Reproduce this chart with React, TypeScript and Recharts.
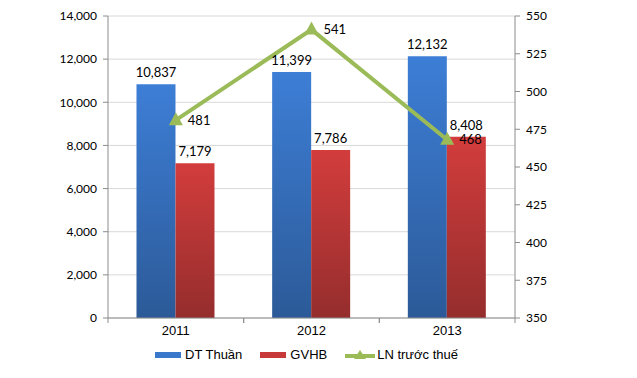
import {
  ComposedChart,
  Bar,
  Line,
  XAxis,
  YAxis,
  CartesianGrid,
  Legend,
  LabelList,
} from "recharts";

const years = ["2011", "2012", "2013"];
const dtThuan = [10837, 11399, 12132];
const gvhb = [7179, 7786, 8408];
const lnTruocThue = [481, 541, 468];

const leftTicks = [0, 2000, 4000, 6000, 8000, 10000, 12000, 14000];
const rightTicks = [350, 375, 400, 425, 450, 475, 500, 525, 550];

const data = years.map((y, i) => ({
  year: y,
  dt: dtThuan[i],
  gv: gvhb[i],
  ln: lnTruocThue[i],
}));

const W = 637;
const H = 378;
const plotLeft = 108;
const plotRight = 515;
const halfBand = (plotRight - plotLeft) / years.length / 2;

const fmt = (v: number) => v.toLocaleString("en-US");

const Triangle = (props: any) => {
  const { cx, cy } = props;
  if (cx == null || cy == null) return null;
  return (
    <path
      d={`M${cx},${cy - 8} L${cx + 7},${cy + 5} L${cx - 7},${cy + 5} Z`}
      fill="#9BBB59"
    />
  );
};

const YearTick = (props: any) => {
  const { x, y, payload } = props;
  return (
    <g>
      <line x1={x - halfBand} x2={x - halfBand} y1={y} y2={y + 5} stroke="#8c8c8c" />
      <line x1={x + halfBand} x2={x + halfBand} y1={y} y2={y + 5} stroke="#8c8c8c" />
      <text
        x={x}
        y={y + 17}
        textAnchor="middle"
        fontFamily="Liberation Sans"
        fontSize={13}
        fill="#000"
      >
        {payload.value}
      </text>
    </g>
  );
};

const LegendBox = () => (
  <div
    style={{
      display: "flex",
      justifyContent: "center",
      gap: 18,
      paddingTop: 7,
      fontFamily: "Liberation Sans",
      fontSize: 13,
      color: "#000",
    }}
  >
    <span style={{ display: "flex", alignItems: "center", gap: 4 }}>
      <span style={{ width: 26, height: 6, background: "#3A78CC", display: "inline-block" }} />
      DT Thuần
    </span>
    <span style={{ display: "flex", alignItems: "center", gap: 4 }}>
      <span style={{ width: 26, height: 6, background: "#C73838", display: "inline-block" }} />
      GVHB
    </span>
    <span style={{ display: "flex", alignItems: "center", gap: 2 }}>
      <svg width={30} height={12}>
        <line x1={0} x2={30} y1={7} y2={7} stroke="#9BBB59" strokeWidth={4} />
        <path d="M15,1 L21,10 L9,10 Z" fill="#9BBB59" />
      </svg>
      LN trước thuế
    </span>
  </div>
);

export default function App() {
  return (
    <div style={{ position: "absolute", left: 0, top: 0, width: W, height: H, background: "#fff" }}>
      <ComposedChart
        width={W}
        height={H}
        data={data}
        margin={{ top: 16, right: 72, left: 48, bottom: 14 }}
        barCategoryGap="21%"
        barGap={0}
      >
        <defs>
          <linearGradient id="blueGrad" x1="0" y1="0" x2="0" y2="1">
            <stop offset="0%" stopColor="#3D7ED6" />
            <stop offset="100%" stopColor="#2C5A98" />
          </linearGradient>
          <linearGradient id="redGrad" x1="0" y1="0" x2="0" y2="1">
            <stop offset="0%" stopColor="#D23D3C" />
            <stop offset="100%" stopColor="#952D2D" />
          </linearGradient>
        </defs>
        <CartesianGrid horizontal vertical={false} stroke="#d9d9d9" yAxisId="left" />
        <XAxis
          dataKey="year"
          height={22}
          tickLine={false}
          tickSize={0}
          tickMargin={0}
          axisLine={{ stroke: "#8c8c8c" }}
          tick={<YearTick />}
          interval={0}
        />
        <YAxis
          yAxisId="left"
          orientation="left"
          width={60}
          domain={[0, 14000]}
          ticks={leftTicks}
          tickFormatter={fmt}
          axisLine={{ stroke: "#8c8c8c" }}
          tickLine={{ stroke: "#8c8c8c" }}
          tickSize={5}
          tickMargin={6}
          tick={{ fontFamily: "Lato", fontSize: 12, fill: "#000" }}
        />
        <YAxis
          yAxisId="right"
          orientation="right"
          width={50}
          domain={[350, 550]}
          ticks={rightTicks}
          axisLine={{ stroke: "#8c8c8c" }}
          tickLine={{ stroke: "#8c8c8c" }}
          tickSize={5}
          tickMargin={6}
          tick={{ fontFamily: "Lato", fontSize: 12, fill: "#000" }}
        />
        <Legend verticalAlign="bottom" height={24} content={<LegendBox />} />
        <Bar yAxisId="left" dataKey="dt" name="DT Thuần" fill="url(#blueGrad)" isAnimationActive={false}>
          <LabelList
            dataKey="dt"
            position="top"
            offset={7}
            formatter={(v: any) => fmt(Number(v))}
            style={{ fontFamily: "Lato", fontSize: 13, fill: "#000" }}
          />
        </Bar>
        <Bar yAxisId="left" dataKey="gv" name="GVHB" fill="url(#redGrad)" isAnimationActive={false}>
          <LabelList
            dataKey="gv"
            position="top"
            offset={7}
            formatter={(v: any) => fmt(Number(v))}
            style={{ fontFamily: "Lato", fontSize: 13, fill: "#000" }}
          />
        </Bar>
        <Line
          yAxisId="right"
          dataKey="ln"
          name="LN trước thuế"
          stroke="#9BBB59"
          strokeWidth={4}
          dot={<Triangle />}
          activeDot={false}
          isAnimationActive={false}
        >
          <LabelList
            dataKey="ln"
            position="right"
            offset={12}
            style={{ fontFamily: "Lato", fontSize: 13, fill: "#000" }}
          />
        </Line>
      </ComposedChart>
    </div>
  );
}
